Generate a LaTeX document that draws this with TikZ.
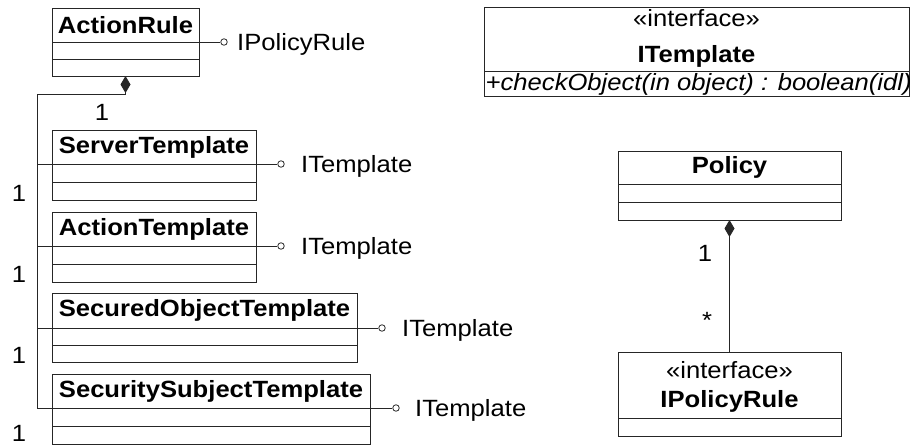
\documentclass[tikz,border=0pt]{standalone}
\usepackage{fontspec}
\setmainfont[FakeStretch=1.09]{Liberation Sans}
\usetikzlibrary{arrows.meta}

% class box: title compartment plus two empty compartments
% #1 name, #2 x, #3 y, #4 width, #5 title height, #6 compartment height, #7 title
\newcommand\umlclass[7]{%
  \node[cls, minimum width=#4pt, minimum height=#5pt] (#1) at (#2,#3) {#7};
  \node[cls, minimum width=#4pt, minimum height=#6pt] (#1-a) at (#1.south west) {};
  \node[cls, minimum width=#4pt, minimum height=#6pt] (#1-o) at (#1-a.south west) {};
}

\begin{document}
\begin{tikzpicture}[x=1pt, y=-1pt,
  font=\fontsize{23.5}{28}\selectfont,
  cls/.style={draw=black!85, line width=0.9pt, inner sep=0pt, outer sep=0pt,
    anchor=north west, font=\fontsize{23.5}{28}\selectfont\bfseries},
  lnk/.style={draw=black!85, line width=0.9pt},
  ball/.style={circle, draw=black!85, line width=0.8pt, fill=white,
    minimum size=6.5pt, inner sep=0pt},
  lbl/.style={anchor=base west, inner sep=0pt},
  mult/.style={inner sep=0pt},
  comp/.style={{Diamond[length=17pt,width=10pt]}-}
]
\useasboundingbox (0,0) rectangle (911,447);

% left column
\umlclass{ar}{52}{8}{147}{34}{17}{ActionRule}
\umlclass{st}{52}{130}{204}{34}{18}{ServerTemplate}
\umlclass{at}{52}{212}{204}{34}{18}{ActionTemplate}
\umlclass{sot}{52}{293}{305}{35}{17}{SecuredObjectTemplate}
\umlclass{sst}{52}{374}{318}{34}{18}{SecuritySubjectTemplate}

% ITemplate interface
\node[cls, minimum width=425pt, minimum height=64pt] (it) at (484,7) {};
\node[cls, minimum width=425pt, minimum height=25pt] (it-o) at (it.south west) {};
\node[anchor=base, inner sep=0pt] (it-s) at (696.5,27) {«interface»};
\node[anchor=base, inner sep=0pt, font=\fontsize{23.5}{28}\selectfont\bfseries] (it-n) at (696.5,62) {ITemplate};
\node[anchor=base west, inner sep=0pt, font=\fontsize{23.5}{28}\selectfont\itshape] (it-op) at (485.5,90) {+checkObject(in object) : boolean(idl)};

% Policy and IPolicyRule
\umlclass{pol}{618}{151}{223}{33}{18}{Policy}
\node[cls, minimum width=223pt, minimum height=66pt] (ipr) at (618,352) {};
\node[cls, minimum width=223pt, minimum height=18pt] (ipr-o) at (ipr.south west) {};
\node[anchor=base, inner sep=0pt] (ipr-s) at (729.5,378) {«interface»};
\node[anchor=base, inner sep=0pt, font=\fontsize{23.5}{28}\selectfont\bfseries] (ipr-n) at (729.5,407) {IPolicyRule};

% provided interfaces (lollipops)
\node[ball] (b0) at (224,42) {};
\draw[lnk] (ar-a.north east) -- (b0);
\node[lbl] (l0) at (237,50) {IPolicyRule};
\node[ball] (b1) at (281,164) {};
\draw[lnk] (st-a.north east) -- (b1);
\node[lbl] (l1) at (301,172) {ITemplate};
\node[ball] (b2) at (281,246) {};
\draw[lnk] (at-a.north east) -- (b2);
\node[lbl] (l2) at (301,254) {ITemplate};
\node[ball] (b3) at (382,328) {};
\draw[lnk] (sot-a.north east) -- (b3);
\node[lbl] (l3) at (402,336) {ITemplate};
\node[ball] (b4) at (396,408) {};
\draw[lnk] (sst-a.north east) -- (b4);
\node[lbl] (l4) at (415,416) {ITemplate};

% composition: ActionRule owns the templates
\coordinate (sp) at (37,94);
\draw[lnk, comp] (ar-o.south) |- (sp) -- (sp |- sst-a.north west) -- (sst-a.north west);
\draw[lnk] (st-a.north west) -- (st-a.north west -| sp);
\draw[lnk] (at-a.north west) -- (at-a.north west -| sp);
\draw[lnk] (sot-a.north west) -- (sot-a.north west -| sp);
\node[mult] (m0) at (102,112) {1};
\node[mult] (m1) at (19,193) {1};
\node[mult] (m2) at (19,274) {1};
\node[mult] (m3) at (19,355) {1};
\node[mult] (m4) at (19,433) {1};

% composition: Policy owns IPolicyRule
\draw[lnk, comp] (pol-o.south) -- (ipr.north);
\node[mult] (m5) at (705,253) {1};
\node[mult, anchor=base] (m6) at (707,328) {*};
\end{tikzpicture}
\end{document}
